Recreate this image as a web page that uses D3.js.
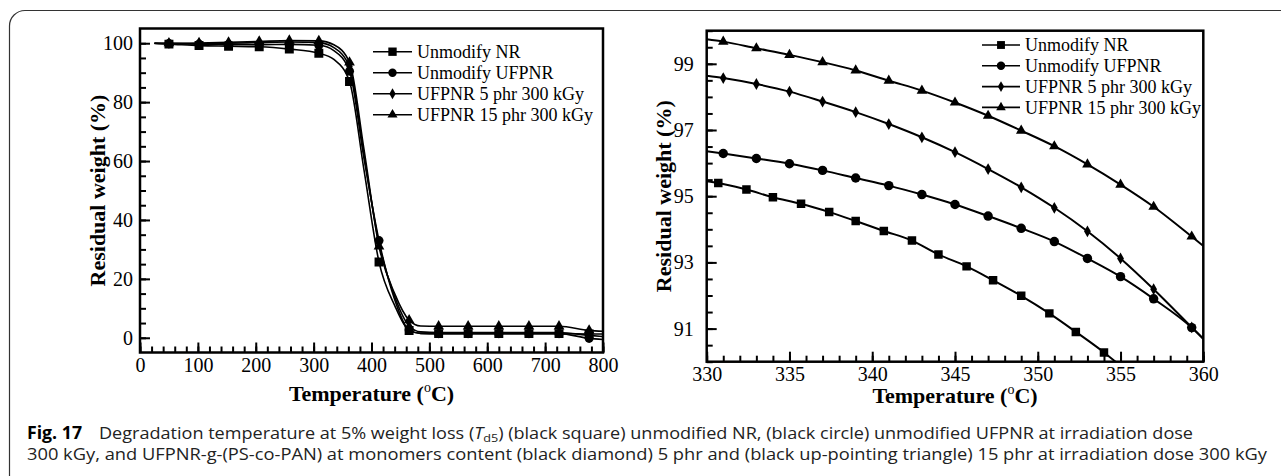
<!DOCTYPE html>
<html><head><meta charset="utf-8">
<script src="https://cdn.jsdelivr.net/npm/d3@7"></script>
<style>body{margin:0;background:#fff} svg{display:block}</style>
</head><body>
<svg id="c" width="1281" height="476"></svg>
<script>
// ---------- data ----------
const seriesNames = ["Unmodify NR", "Unmodify UFPNR", "UFPNR 5 phr 300 kGy", "UFPNR 15 phr 300 kGy"];
const seriesSymbols = ["square", "circle", "diamond", "triangle"];

// Left panel: full TGA curves (temperature °C, residual weight %)
const tgaTemps  = [25, 50, 102, 153, 206, 258, 309, 335, 362, 387, 413, 440, 465, 485, 516, 567, 620, 672, 724, 776, 800];
const tgaMarker = [0, 1, 1, 1, 1, 1, 1, 0, 1, 0, 1, 0, 1, 0, 1, 1, 1, 1, 1, 1, 0];
const tgaNR     = [99.9, 99.7, 99.2, 99.0, 98.8, 98.0, 96.6, 94.5, 87.0, 57, 25.7, 11, 2.5, 1.5, 1.4, 1.4, 1.4, 1.4, 1.4, 1.3, 1.3];
const tgaUFPNR  = [100, 99.9, 99.7, 99.6, 99.5, 99.6, 99.3, 97.5, 90.5, 61, 33, 13, 2.6, 1.5, 1.4, 1.4, 1.4, 1.4, 1.4, -0.2, -0.6];
const tga5phr   = [100, 99.9, 99.9, 100.0, 100.2, 100.4, 100.2, 98.5, 92.0, 62, 32, 14, 4.0, 2.0, 1.8, 1.8, 1.8, 1.8, 1.8, 0.8, 0.4];
const tga15phr  = [100, 100, 100.1, 100.3, 100.6, 100.9, 100.8, 99.5, 93.5, 64, 31, 15, 6.0, 4.0, 3.9, 3.9, 3.9, 3.9, 3.9, 2.5, 2.2];
const tgaXTicks = [0, 100, 200, 300, 400, 500, 600, 700, 800];
const tgaYTicks = [0, 20, 40, 60, 80, 100];

// Right panel: zoom on 330–360 °C
const zTempsSq   = [330, 330.7, 332.4, 334.0, 335.7, 337.4, 339.0, 340.7, 342.4, 344.0, 345.7, 347.3, 349.0, 350.7, 352.3, 354.0, 354.7];
const zMarkerSq  = [0, 1, 1, 1, 1, 1, 1, 1, 1, 1, 1, 1, 1, 1, 1, 1, 0];
const zNR        = [95.45, 95.40, 95.20, 94.97, 94.77, 94.52, 94.25, 93.95, 93.66, 93.24, 92.88, 92.46, 91.99, 91.46, 90.90, 90.28, 90.0];
const zTemps     = [330, 331, 333, 335, 337, 339, 341, 343, 345, 347, 349, 351, 353, 355, 357, 359.3, 360];
const zMarker    = [0, 1, 1, 1, 1, 1, 1, 1, 1, 1, 1, 1, 1, 1, 1, 1, 0];
const zUFPNR     = [96.36, 96.29, 96.14, 95.98, 95.78, 95.55, 95.32, 95.05, 94.75, 94.40, 94.03, 93.63, 93.12, 92.57, 91.90, 91.03, 90.69];
const z5phr      = [98.64, 98.57, 98.39, 98.16, 97.86, 97.54, 97.18, 96.78, 96.33, 95.82, 95.27, 94.65, 93.94, 93.12, 92.19, 91.04, 90.69];
const z15phr     = [99.74, 99.67, 99.47, 99.27, 99.05, 98.80, 98.49, 98.19, 97.83, 97.43, 96.98, 96.51, 95.96, 95.35, 94.68, 93.78, 93.5];
const zXTicks    = [330, 335, 340, 345, 350, 355, 360];
const zYTicks    = [91, 93, 95, 97, 99];

// ---------- drawing ----------
const W = 1281, H = 476;
const svg = d3.select("#c");
const SERIF = "'Liberation Serif','Times New Roman',serif";
const symType = {square: d3.symbolSquare, circle: d3.symbolCircle, diamond: d3.symbolDiamond, triangle: d3.symbolTriangle};

// outer figure frame (rounded corner)
svg.append("path")
  .attr("d", `M9.5,${H + 5} L9.5,26 A15.5,15.5 0 0 1 25,10.5 L${W + 5},10.5`)
  .attr("fill", "none").attr("stroke", "#333").attr("stroke-width", 1.2);

function zip(xs, ys, ms) { return xs.map((t, i) => ({t, v: ys[i], m: ms[i]})); }

function panel(cfg) {
  const {x, y} = cfg;
  const g = svg.append("g");
  const [x0, x1] = x.range(), [y0, y1] = y.range();
  const clipId = "clip" + Math.round(x0);
  svg.append("clipPath").attr("id", clipId).append("rect")
    .attr("x", x0).attr("y", y1).attr("width", x1 - x0).attr("height", y0 - y1);

  // axes (inward ticks)
  const ax = g.append("g").attr("font-family", SERIF);
  const bx = ax.append("g").attr("transform", `translate(0,${y0})`);
  bx.append("g").call(d3.axisBottom(x).tickValues(cfg.xMinor).tickSize(-6).tickFormat(""));
  bx.append("g").call(d3.axisBottom(x).tickValues(cfg.xTicks).tickSize(-10).tickPadding(5).tickFormat(d3.format("d")));
  const by = ax.append("g").attr("transform", `translate(${x0},0)`);
  by.append("g").call(d3.axisLeft(y).tickValues(cfg.yMinor).tickSize(-6).tickFormat(""));
  by.append("g").call(d3.axisLeft(y).tickValues(cfg.yTicks).tickSize(-10).tickPadding(cfg.yPad).tickFormat(d3.format("d")));
  ax.selectAll(".domain").remove();
  ax.selectAll(".tick line").attr("stroke", "#000").attr("stroke-width", 2);
  ax.selectAll(".tick text").attr("font-size", 20).attr("fill", "#000").attr("font-family", SERIF);

  // frame
  g.append("rect").attr("x", x0).attr("y", y1).attr("width", x1 - x0).attr("height", y0 - y1)
    .attr("fill", "none").attr("stroke", "#000").attr("stroke-width", 2.5);

  // series
  const line = d3.line().x(d => x(d.t)).y(d => y(d.v)).curve(d3.curveMonotoneX);
  const sg = g.append("g").attr("clip-path", `url(#${clipId})`);
  cfg.series.forEach((s, i) => {
    sg.append("path").datum(s).attr("d", line).attr("fill", "none")
      .attr("stroke", "#000").attr("stroke-width", cfg.lw);
    sg.selectAll(null).data(s.filter(d => d.m)).join("path")
      .attr("transform", d => `translate(${x(d.t)},${y(d.v)})`)
      .attr("d", d3.symbol().type(symType[seriesSymbols[i]]).size(cfg.symSize[i]))
      .attr("fill", "#000");
  });

  // legend
  const lg = g.append("g").attr("font-family", SERIF).attr("font-size", 18);
  seriesNames.forEach((name, i) => {
    const cy = cfg.leg.y + i * cfg.leg.dy;
    lg.append("line").attr("x1", cfg.leg.x1).attr("x2", cfg.leg.x2).attr("y1", cy).attr("y2", cy)
      .attr("stroke", "#000").attr("stroke-width", 1.6);
    lg.append("path").attr("transform", `translate(${(cfg.leg.x1 + cfg.leg.x2) / 2},${cy})`)
      .attr("d", d3.symbol().type(symType[seriesSymbols[i]]).size(cfg.legSym[i])).attr("fill", "#000");
    lg.append("text").attr("x", cfg.leg.tx).attr("y", cy).attr("dy", "0.34em").text(name);
  });

  // axis titles
  const xt = g.append("text").attr("x", (x0 + x1) / 2).attr("y", cfg.xTitleY)
    .attr("text-anchor", "middle").attr("font-family", SERIF).attr("font-weight", "bold").attr("font-size", 22);
  xt.append("tspan").text("Temperature (");
  xt.append("tspan").attr("font-size", 14).attr("font-weight", "normal").attr("dy", -9).text("o");
  xt.append("tspan").attr("dy", 9).text("C)");
  g.append("text").attr("transform", `translate(${cfg.yTitleX},${(y0 + y1) / 2}) rotate(-90)`)
    .attr("text-anchor", "middle").attr("font-family", SERIF).attr("font-weight", "bold").attr("font-size", 22)
    .text("Residual weight (%)");
}

// Left panel
panel({
  x: d3.scaleLinear().domain([0, 800]).range([140, 603]),
  y: d3.scaleLinear().domain([-5, 105]).range([352.5, 28.5]),
  xTicks: tgaXTicks, xMinor: d3.range(0, 801, 20),
  yTicks: tgaYTicks, yMinor: d3.range(0, 101, 5), yPad: 7,
  series: [zip(tgaTemps, tgaNR, tgaMarker), zip(tgaTemps, tgaUFPNR, tgaMarker),
           zip(tgaTemps, tga5phr, tgaMarker), zip(tgaTemps, tga15phr, tgaMarker)],
  lw: 1.6, symSize: [80, 64, 36, 50], legSym: [70, 56, 34, 44],
  leg: {x1: 373, x2: 412, tx: 417, y: 51.7, dy: 21},
  xTitleY: 401, yTitleX: 105
});

// Right panel
panel({
  x: d3.scaleLinear().domain([330, 360]).range([706.7, 1203.3]),
  y: d3.scaleLinear().domain([90, 100]).range([361.7, 30.7]),
  xTicks: zXTicks, xMinor: d3.range(330, 361, 1),
  yTicks: zYTicks, yMinor: d3.range(90, 100.01, 0.5), yPad: 13,
  series: [zip(zTempsSq, zNR, zMarkerSq), zip(zTemps, zUFPNR, zMarker),
           zip(zTemps, z5phr, zMarker), zip(zTemps, z15phr, zMarker)],
  lw: 2, symSize: [72, 70, 40, 48], legSym: [62, 56, 34, 40],
  leg: {x1: 982, x2: 1020, tx: 1025, y: 45, dy: 20.8},
  xTitleY: 403, yTitleX: 671
});

// ---------- caption ----------
const SANS = "'Open Sans','Noto Sans',sans-serif";
const FS = 16;
const cap = svg.append("g").attr("font-family", SANS).attr("fill", "#222").attr("font-size", FS);
cap.append("text").attr("x", 27).attr("y", 438.5).attr("font-weight", "bold").attr("fill", "#000")
  .attr("font-size", 18).attr("textLength", 55).attr("lengthAdjust", "spacingAndGlyphs")
  .text("Fig. 17");
const l1 = cap.append("text").attr("x", 99).attr("y", 438.5)
  .attr("textLength", 1094).attr("lengthAdjust", "spacingAndGlyphs");
l1.append("tspan").text("Degradation temperature at 5% weight loss (");
l1.append("tspan").attr("font-style", "italic").text("T");
l1.append("tspan").attr("font-size", FS * 0.7).attr("dy", 3).text("d5");
l1.append("tspan").attr("dy", -3).text(") (black square) unmodified NR, (black circle) unmodified UFPNR at irradiation dose");
cap.append("text").attr("x", 27).attr("y", 460)
  .attr("textLength", 1240).attr("lengthAdjust", "spacingAndGlyphs")
  .text("300 kGy, and UFPNR-g-(PS-co-PAN) at monomers content (black diamond) 5 phr and (black up-pointing triangle) 15 phr at irradiation dose 300 kGy");
</script>
</body></html>
